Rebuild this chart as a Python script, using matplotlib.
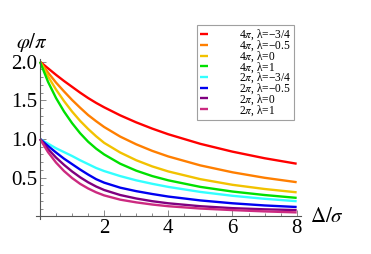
import matplotlib
matplotlib.use('Agg')
import matplotlib.pyplot as plt
from matplotlib.ticker import MultipleLocator

plt.rcParams['font.family'] = ['Liberation Serif', 'DejaVu Serif']
plt.rcParams['mathtext.fontset'] = 'stix'

# --- data (Delta/sigma vs phi/pi) ---
x = [0, 0.25, 0.5, 0.75, 1, 1.25, 1.5, 1.75, 2, 2.5, 3, 3.5, 4, 5, 6, 7, 8]

red_4pi_m34 = [2.00, 1.915, 1.83, 1.75, 1.675, 1.60, 1.53, 1.467, 1.41, 1.306, 1.215, 1.134, 1.061, 0.937, 0.836, 0.751, 0.68]
orange_4pi_m05 = [2.00, 1.86, 1.73, 1.615, 1.505, 1.405, 1.31, 1.23, 1.155, 1.031, 0.931, 0.846, 0.774, 0.658, 0.569, 0.498, 0.441]
yellow_4pi_0 = [2.00, 1.81, 1.64, 1.49, 1.355, 1.235, 1.13, 1.035, 0.95, 0.825, 0.725, 0.645, 0.58, 0.48, 0.407, 0.353, 0.31]
green_4pi_1 = [2.00, 1.74, 1.53, 1.355, 1.205, 1.075, 0.965, 0.875, 0.80, 0.68, 0.59, 0.52, 0.465, 0.38, 0.32, 0.275, 0.238]
cyan_2pi_m34 = [1.00, 0.94, 0.88, 0.83, 0.78, 0.725, 0.675, 0.625, 0.585, 0.52, 0.465, 0.42, 0.38, 0.315, 0.265, 0.226, 0.195]
blue_2pi_m05 = [1.00, 0.91, 0.825, 0.745, 0.675, 0.605, 0.54, 0.48, 0.435, 0.37, 0.325, 0.288, 0.255, 0.205, 0.168, 0.14, 0.12]
purple_2pi_0 = [1.00, 0.87, 0.76, 0.665, 0.58, 0.505, 0.44, 0.385, 0.34, 0.275, 0.23, 0.195, 0.168, 0.13, 0.105, 0.09, 0.08]
pink_2pi_1 = [1.00, 0.83, 0.695, 0.585, 0.495, 0.42, 0.36, 0.31, 0.27, 0.215, 0.18, 0.152, 0.13, 0.10, 0.08, 0.063, 0.05]

series = [red_4pi_m34, orange_4pi_m05, yellow_4pi_0, green_4pi_1,
          cyan_2pi_m34, blue_2pi_m05, purple_2pi_0, pink_2pi_1]
labels = [r'4$\pi$, λ=−3/4', r'4$\pi$, λ=−0.5', r'4$\pi$, λ=0', r'4$\pi$, λ=1',
          r'2$\pi$, λ=−3/4', r'2$\pi$, λ=−0.5', r'2$\pi$, λ=0', r'2$\pi$, λ=1']
colors = ['#ff0000', '#ff7f00', '#f2c200', '#00e000',
          '#33ffff', '#0000f0', '#800080', '#cc2a80']

fig = plt.figure(figsize=(3.71, 2.54), dpi=100)
ax = fig.add_axes([0.0974, 0.1394, 0.7152, 0.6268])

for y, c, lab in zip(series, colors, labels):
    ax.plot(x, y, color=c, lw=1.7, label=lab, solid_capstyle='butt',
            solid_joinstyle='round')

ax.set_xlim(-0.12, 8.15)
ax.set_ylim(-0.03, 2.03)

# Mathematica-like axes crossing at the origin
for side in ['top', 'right']:
    ax.spines[side].set_visible(False)
ax.spines['left'].set_position(('data', 0))
ax.spines['bottom'].set_position(('data', 0))
for side in ['left', 'bottom']:
    ax.spines[side].set_color('#555555')
    ax.spines[side].set_linewidth(0.8)

ax.xaxis.set_major_locator(MultipleLocator(2))
ax.xaxis.set_minor_locator(MultipleLocator(0.5))
ax.yaxis.set_major_locator(MultipleLocator(0.5))
ax.yaxis.set_minor_locator(MultipleLocator(0.1))
ax.tick_params(which='both', direction='in', color='#777777', width=0.6)
ax.tick_params(which='major', length=4, labelsize=15, pad=2)
ax.tick_params(which='minor', length=2)
ax.set_xticks([2, 4, 6, 8])
ax.set_xticklabels(['2', '4', '6', '8'])
ax.set_yticks([0.5, 1.0, 1.5, 2.0])
ax.set_yticklabels(['0.5', '1.0', '1.5', '2.0'])

fig.text(32 / 371, 1 - 42 / 254, r'$\varphi/\pi$', fontsize=15, ha='center', va='center')
fig.text(327 / 371, 1 - 217 / 254, r'$\Delta/\sigma$', fontsize=15, ha='center', va='center')

leg = ax.legend(loc='upper left', bbox_to_anchor=(197 / 371, 1 - 25 / 254),
                bbox_transform=fig.transFigure, fontsize=8.3, frameon=True,
                fancybox=False, handlelength=0.7, handletextpad=2.7,
                labelspacing=-0.33, borderpad=0.25, borderaxespad=0)
leg.get_frame().set_edgecolor('#888888')
leg.get_frame().set_linewidth(0.8)

fig.savefig('out.png', dpi=100)
